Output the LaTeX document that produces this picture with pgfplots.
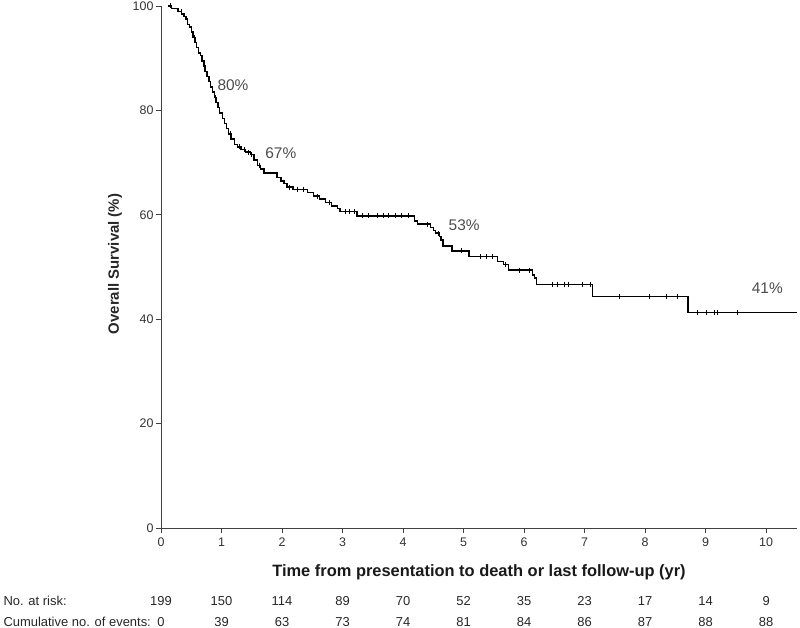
\documentclass[border=0pt]{standalone}
\usepackage{pgfplots}
\pgfplotsset{compat=1.18}
\usepackage{fontspec}
\setmainfont{Liberation Sans}
\definecolor{txt}{HTML}{333333}
\begin{document}
\begin{tikzpicture}[
  risk/.style={font=\fontsize{13}{15}\selectfont, text=black!85, yshift=-73bp},
  cum/.style={font=\fontsize{13}{15}\selectfont, text=black!85, yshift=-94bp},
  pct/.style={font=\fontsize{15.5}{17}\selectfont, text=black!70},
]
\begin{axis}[
  at={(0,0)}, anchor=south west,
  scale only axis, width=636bp, height=522bp,
  xmin=0, xmax=10.51, ymin=0, ymax=100,
  axis lines=left, axis line style={-, line width=0.9pt, color=black!75},
  xtick={0,1,...,10}, ytick={0,20,40,60,80,100},
  tick align=outside, major tick length=5bp,
  tick style={line width=0.9pt, color=black!75},
  xticklabel style={font=\fontsize{12.5}{14}\selectfont, text=txt, yshift=-1bp},
  yticklabel style={font=\fontsize{12.5}{14}\selectfont, text=txt, xshift=1bp},
  /pgf/number format/assume math mode=true,
  clip=false,
]
\addplot[const plot, black, line width=1.4pt] coordinates {
(0.12,100) (0.17,99.5) (0.28,99.0) (0.34,98.5) (0.38,98.0) (0.41,97.5) (0.44,96.5) (0.47,96.0)
(0.50,95.0) (0.53,94.0) (0.56,93.0) (0.59,92.0) (0.62,91.0) (0.65,90.5) (0.68,89.5) (0.71,88.5)
(0.73,87.5) (0.76,86.5) (0.79,85.5) (0.82,84.5) (0.85,83.5) (0.88,82.5) (0.91,81.5) (0.94,80.5)
(0.97,79.5) (1.02,78.5) (1.05,77.5) (1.08,76.5) (1.12,75.5) (1.16,74.5) (1.21,73.5) (1.26,73.0)
(1.32,72.5) (1.40,72.0) (1.48,71.5) (1.54,70.5) (1.59,69.5) (1.64,68.8) (1.70,68.0) (1.92,67.2)
(1.98,66.5) (2.03,66.0) (2.08,65.3) (2.18,64.9) (2.42,64.3) (2.52,63.6) (2.62,63.0) (2.72,62.4)
(2.82,61.7) (2.92,61.2) (2.96,60.6) (3.24,59.8) (4.19,58.8) (4.24,58.2) (4.45,57.6) (4.50,57.0)
(4.54,56.5) (4.60,55.9) (4.63,55.2) (4.66,54.0) (4.81,53.1) (5.09,52.0) (5.56,51.1) (5.66,50.5)
(5.74,49.4) (6.14,48.5) (6.17,47.9) (6.21,46.7) (7.13,44.3) (8.71,41.3) (10.51,41.3)
};
\addplot[only marks, mark=|, mark size=2.5bp, black, mark options={line width=0.8pt}] coordinates {
(0.15,100) (0.33,99.0) (0.55,94.0) (0.72,88.5) (0.90,82.5) (1.15,75.5) (1.30,73.0) (1.37,72.5)
(1.45,72.0) (1.50,71.5) (1.62,69.5) (2.12,65.3) (2.25,64.9) (2.35,64.9) (2.58,63.6) (2.78,62.4)
(3.05,60.6) (3.12,60.6) (3.19,60.6) (3.32,59.8) (3.42,59.8) (3.57,59.8) (3.67,59.8) (3.75,59.8)
(3.87,59.8) (3.98,59.8) (4.08,59.8) (4.41,58.2) (4.58,56.5) (4.96,53.1) (5.27,52.0) (5.37,52.0)
(5.47,52.0) (5.69,50.5) (5.93,49.4) (6.08,49.4) (6.46,46.7) (6.55,46.7) (6.66,46.7) (6.74,46.7)
(6.97,46.7) (7.09,46.7) (7.57,44.3) (8.07,44.3) (8.35,44.3) (8.53,44.3) (8.86,41.3) (9.02,41.3)
(9.14,41.3) (9.19,41.3) (9.52,41.3)
};
\node[pct] at (axis cs:1.19,84.9) {80\%};
\node[pct] at (axis cs:1.98,71.8) {67\%};
\node[pct] at (axis cs:5.01,58.0) {53\%};
\node[pct] at (axis cs:10.02,46.0) {41\%};
% risk table
\node[risk] at (axis cs:0,0) {199};
\node[risk] at (axis cs:1,0) {150};
\node[risk] at (axis cs:2,0) {114};
\node[risk] at (axis cs:3,0) {89};
\node[risk] at (axis cs:4,0) {70};
\node[risk] at (axis cs:5,0) {52};
\node[risk] at (axis cs:6,0) {35};
\node[risk] at (axis cs:7,0) {23};
\node[risk] at (axis cs:8,0) {17};
\node[risk] at (axis cs:9,0) {14};
\node[risk] at (axis cs:10,0) {9};
\node[cum] at (axis cs:0,0) {0};
\node[cum] at (axis cs:1,0) {39};
\node[cum] at (axis cs:2,0) {63};
\node[cum] at (axis cs:3,0) {73};
\node[cum] at (axis cs:4,0) {74};
\node[cum] at (axis cs:5,0) {81};
\node[cum] at (axis cs:6,0) {84};
\node[cum] at (axis cs:7,0) {86};
\node[cum] at (axis cs:8,0) {87};
\node[cum] at (axis cs:9,0) {88};
\node[cum] at (axis cs:10,0) {88};
\end{axis}
\node[font=\bfseries\fontsize{16.5}{19}\selectfont, text=black!90] at (318bp,-44bp) {Time from presentation to death or last follow-up (yr)};
\node[font=\bfseries\fontsize{15}{17}\selectfont, text=black!85, rotate=90] at (-46bp,264bp) {Overall Survival (\%)};
\node[font=\fontsize{13}{15}\selectfont, text=black!85, anchor=west] at (-161bp,-73bp) {No. at risk:};
\node[font=\fontsize{13}{15}\selectfont, text=black!85, anchor=west] at (-161bp,-94bp) {Cumulative no. of events:};
\pgfresetboundingbox
\path[use as bounding box] (-161bp,-100bp) rectangle (639bp,528bp);
\end{tikzpicture}
\end{document}
